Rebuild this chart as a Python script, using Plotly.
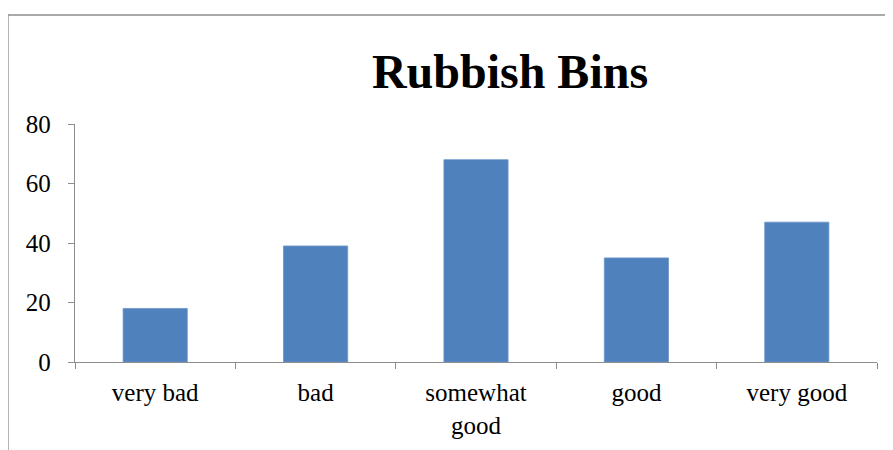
import plotly.graph_objects as go

categories = ["very bad", "bad", "somewhat<br>good", "good", "very good"]
values = [18, 39, 68, 35, 47]
y_ticks = [0, 20, 40, 60, 80]

# page has an 8px body margin: figure pixel = page pixel - 8
OFF = 8
W, H = 893, 450
L = 75 - OFF
T = 124 - OFF
R = W - (877 - OFF)
B = H - (362 - OFF)
pw, ph = W - L - R, H - T - B

def px_x(px):
    return (px - OFF - L) / pw

def px_y(py):
    return (H - B - (py - OFF)) / ph

fig = go.Figure(go.Bar(
    x=categories, y=values,
    marker=dict(color="#4F81BD", line=dict(color="#6A95C9", width=0.8)),
    width=0.4,
))

frame = dict(color="#8C8C8C", width=1.3)
fig.update_layout(
    width=W, height=H,
    margin=dict(l=L, r=R, t=T, b=B),
    paper_bgcolor="white", plot_bgcolor="white",
    font=dict(family="Liberation Serif, Times New Roman, serif", size=25, color="black"),
    showlegend=False,
    title=dict(text="<b>Rubbish Bins</b>", x=(510 - OFF) / W, xref="container", xanchor="center",
               y=1 - (71 - OFF) / H, yref="container", yanchor="middle",
               font=dict(family="Liberation Serif, Times New Roman, serif", size=48, color="black")),
    shapes=[
        dict(type="line", xref="paper", yref="paper", x0=px_x(8), y0=px_y(15), x1=px_x(W + 20), y1=px_y(15), line=frame),
        dict(type="line", xref="paper", yref="paper", x0=px_x(8), y0=px_y(15), x1=px_x(8), y1=px_y(H + 20), line=frame),
    ],
)
fig.update_xaxes(
    showgrid=False, showline=True, linecolor="#8C8C8C", linewidth=1.3,
    ticks="outside", tickson="boundaries", ticklen=6, tickcolor="#8C8C8C", tickwidth=1.3,
    tickfont=dict(size=25), ticklabelstandoff=8,
)
fig.update_yaxes(
    range=[0, 80], tickvals=y_ticks, showgrid=False, zeroline=False,
    showline=True, linecolor="#8C8C8C", linewidth=1.3,
    ticks="outside", ticklen=6, tickcolor="#8C8C8C", tickwidth=1.3,
    tickfont=dict(size=25), ticklabelstandoff=12,
)
fig.write_html("out.html")
